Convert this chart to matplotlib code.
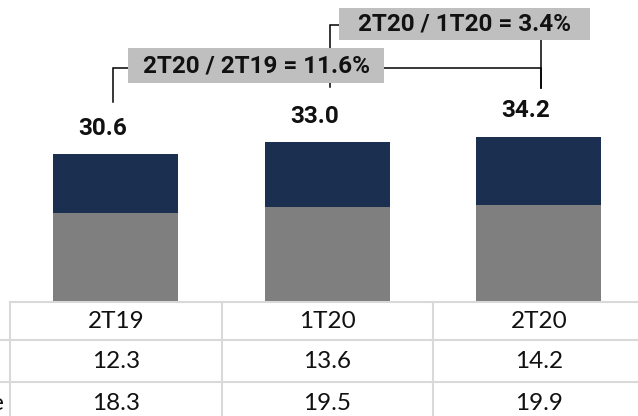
import matplotlib.pyplot as plt
from matplotlib.patches import Rectangle

plt.rcParams['font.family'] = ['Lato', 'DejaVu Sans']
bold_font = ['Roboto', 'DejaVu Sans']

# data
periods = ['2T19', '1T20', '2T20']
top_vals = [12.3, 13.6, 14.2]      # navy segment
base_vals = [18.3, 19.5, 19.9]     # gray segment
totals = [30.6, 33.0, 34.2]
growth_labels = ['2T20 / 2T19 = 11.6%', '2T20 / 1T20 = 3.4%']
row_label = 'Recorrente'

navy = '#1b3050'
gray = '#7f7f7f'
box_gray = '#bfbfbf'
grid = '#d9d9d9'

W, H = 638, 416
fig = plt.figure(figsize=(W / 100, H / 100), dpi=100)
ax = fig.add_axes([0, 0, 1, 1])

# pixel -> data helpers (one column = 211.5 px, 4.8 px per unit, base at 301 px)
col_w = 211.5
ppu = 4.8
base = 301


def px(v):
    return (v - 10) / col_w - 0.5


def py(v):
    return (base - v) / ppu


ax.set_xlim(px(0), px(W))
ax.set_ylim(py(H), py(0))
ax.axis('off')

xs = list(range(len(periods)))
bw = 125 / col_w
ax.bar(xs, base_vals, width=bw, color=gray, zorder=2)
ax.bar(xs, top_vals, width=bw, bottom=base_vals, color=navy, zorder=2)

for i, t in enumerate(totals):
    ax.text(i - 0.06, t + 26 / ppu, f'{t:.1f}', ha='center', va='center',
            fontsize=17.5, fontweight='bold', family=bold_font, color='#111111')

# growth brackets
lw = 1.1
ax.plot([px(113), px(113), px(541), px(541)], [py(102), py(68), py(68), py(88)],
        color='black', lw=lw, zorder=1, solid_joinstyle='miter')
ax.plot([px(330), px(330), px(541), px(541)], [py(87), py(25), py(25), py(88)],
        color='black', lw=lw, zorder=1, solid_joinstyle='miter')

# boxes (upper first so lower one covers the 1T20 line)
ax.add_patch(Rectangle((px(339), py(40)), px(590) - px(339), py(8) - py(40),
                       facecolor=box_gray, edgecolor='none', zorder=3))
ax.text((px(339) + px(590)) / 2, py(24), growth_labels[1], ha='center', va='center',
        fontsize=17.5, fontweight='bold', family=bold_font, color='#111111', zorder=4)
ax.add_patch(Rectangle((px(128), py(83)), px(384) - px(128), py(48) - py(83),
                       facecolor=box_gray, edgecolor='none', zorder=5))
ax.text((px(128) + px(384)) / 2, py(65.5), growth_labels[0], ha='center', va='center',
        fontsize=17.5, fontweight='bold', family=bold_font, color='#111111', zorder=6)

# table under the bars
t_top, r1, r2 = py(302), py(340), py(382)
ax.plot([-0.5, px(W)], [t_top, t_top], color=grid, lw=1.5, zorder=1)
for y in (r1, r2):
    ax.plot([px(0), px(W)], [y, y], color=grid, lw=1.5, zorder=1)
for b in (-0.5, 0.5, 1.5, 2.5):
    ax.plot([b, b], [t_top, py(H)], color=grid, lw=1.5, zorder=1)

tfs = 17.5
for i in xs:
    ax.text(i, py(321), periods[i], ha='center', va='center', fontsize=tfs, color='#111111')
    ax.text(i, py(361), f'{top_vals[i]:.1f}', ha='center', va='center', fontsize=tfs, color='#111111')
    ax.text(i, py(403), f'{base_vals[i]:.1f}', ha='center', va='center', fontsize=tfs, color='#111111')
ax.text(px(5), py(403), row_label, ha='right', va='center', fontsize=tfs, color='#111111')

fig.savefig('out.png', dpi=100)
